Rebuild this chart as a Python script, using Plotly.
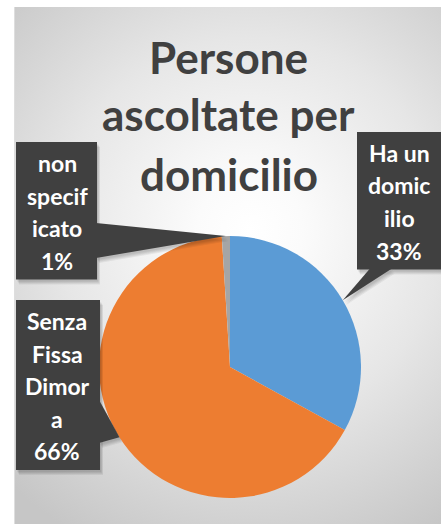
import base64
from math import sin, cos, radians
import plotly.graph_objects as go

# ---- data -------------------------------------------------------------
categories = ["Ha un domicilio", "Senza Fissa Dimora", "non specificato"]
values = [33, 66, 1]
label_lines = [
    ["Ha un", "domic", "ilio"],
    ["Senza", "Fissa", "Dimor", "a"],
    ["non", "specif", "icato"],
]
colors = ["#5B9BD5", "#ED7D31", "#A5A5A5"]
title_lines = ["Persone", "ascoltate per", "domicilio"]

# ---- geometry helpers (pixels -> paper) -------------------------------
W, H = 441, 524
def px(x):
    return x / W
def py(y):
    return 1 - y / H

CX, CY, R = 230, 367, 131          # pie centre and radius in pixels
LINE = 32.5                        # label line pitch
DARK = "#404040"
FONT = "Lato"

total = sum(values)
pcts = [round(v / total * 100) for v in values]

# callout boxes: horizontal extent, top edge, text centre, pointer side
callouts = [
    dict(x0=357, x1=441, top=132, tx=399, side="bottom", span=(370, 392)),
    dict(x0=16, x1=100, top=300, tx=57, side="right", span=(400, 443)),
    dict(x0=16, x1=97, top=142, tx=57, side="right", span=(223, 258)),
]

fig = go.Figure(
    go.Pie(
        labels=categories,
        values=values,
        marker=dict(colors=colors, line=dict(width=0)),
        sort=False,
        direction="clockwise",
        rotation=0,
        textinfo="none",
        hoverinfo="skip",
        showlegend=False,
        domain=dict(x=[px(CX - R), px(CX + R)], y=[py(CY + R), py(CY - R)]),
    )
)

# ---- radial gradient panel behind the chart ---------------------------
pw, ph = W - 14, H - 7
svg = f'''<svg xmlns="http://www.w3.org/2000/svg" width="{pw}" height="{ph}" viewBox="0 0 {pw} {ph}">
<defs><radialGradient id="g" gradientUnits="userSpaceOnUse" cx="{250 - 14}" cy="{230 - 7}" r="350">
<stop offset="0" stop-color="#ffffff"/>
<stop offset="0.15" stop-color="#fbfbfb"/>
<stop offset="0.55" stop-color="#e6e6e6"/>
<stop offset="1" stop-color="#c6c6c6"/>
</radialGradient></defs>
<rect x="0" y="0" width="{pw}" height="{ph}" fill="url(#g)"/>
<line x1="0.5" y1="0" x2="0.5" y2="{ph}" stroke="#dedede" stroke-width="1"/>
</svg>'''
src = "data:image/svg+xml;base64," + base64.b64encode(svg.encode()).decode()
fig.add_layout_image(
    source=src, xref="paper", yref="paper",
    x=px(14), y=py(7), sizex=pw / W, sizey=ph / H,
    xanchor="left", yanchor="top", sizing="stretch", layer="below",
)

# ---- title ------------------------------------------------------------
TS = 44
for line, base in zip(title_lines, [73, 130, 190]):
    fig.add_annotation(
        text=line, x=px(229), y=py(base - 0.37 * TS), xref="paper", yref="paper",
        showarrow=False, xanchor="center", yanchor="middle",
        font=dict(family=FONT, size=TS, color=DARK, weight="bold"),
    )

# ---- callout labels ---------------------------------------------------
def path(pts):
    return "M " + " L ".join(f"{px(x)},{py(y)}" for x, y in pts) + " Z"

angle0 = 0.0
for v, lines, pct, c in zip(values, label_lines, pcts, callouts):
    mid = (angle0 + v / 2) / total * 360
    angle0 += v
    tip = (CX + R * sin(radians(mid)), CY - R * cos(radians(mid)))

    text_lines = lines + [f"{pct}%"]
    n = len(text_lines)
    top = c["top"]
    bottom = top + 21 + (n - 1) * LINE + 19

    a, b = c["span"]
    if c["side"] == "bottom":
        wedge = [(a, bottom - 1), (b, bottom - 1), tip]
    else:
        wedge = [(c["x1"] - 1, a), (c["x1"] - 1, b), tip]

    box = [(c["x0"], top), (c["x1"], top), (c["x1"], bottom), (c["x0"], bottom)]

    # soft drop shadow
    for d in (5, 4, 3, 2):
        for poly in (box, wedge):
            fig.add_shape(
                type="path", xref="paper", yref="paper",
                path=path([(x + d * 0.6, y + d) for x, y in poly]),
                fillcolor="rgba(0,0,0,0.06)", line=dict(width=0), layer="above",
            )
    for poly in (box, wedge):
        fig.add_shape(
            type="path", xref="paper", yref="paper", path=path(poly),
            fillcolor=DARK, line=dict(width=0), layer="above",
        )

    for k, t in enumerate(text_lines):
        fig.add_annotation(
            text=t, x=px(c["tx"]), y=py(top + 21 + k * LINE),
            xref="paper", yref="paper", showarrow=False,
            xanchor="center", yanchor="middle",
            font=dict(family=FONT, size=23, color="white", weight="bold"),
        )

fig.update_layout(
    width=W, height=H,
    margin=dict(l=0, r=0, t=0, b=0, pad=0),
    paper_bgcolor="white", plot_bgcolor="white",
)

fig.write_html("out.html")
